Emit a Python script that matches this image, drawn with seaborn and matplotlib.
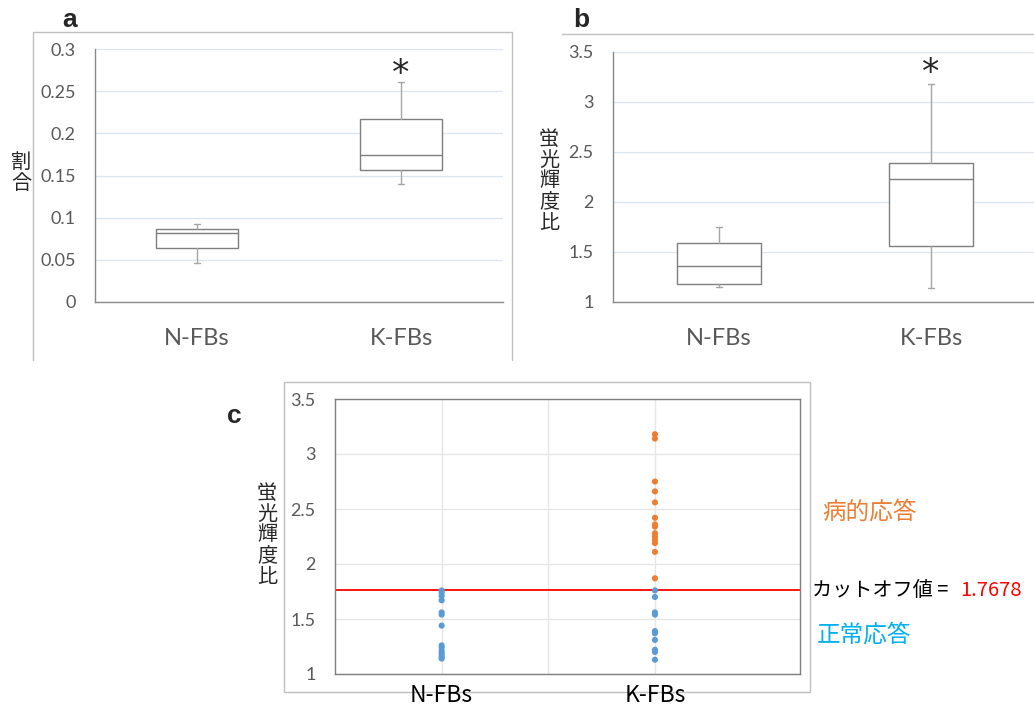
import matplotlib
matplotlib.use("Agg")
import matplotlib.pyplot as plt
import numpy as np
import pandas as pd
import seaborn as sns
from matplotlib.lines import Line2D
from matplotlib.patches import Rectangle

groups = ["N-FBs", "K-FBs"]

# panel a: box summaries (割合)
a_whislo = [0.046, 0.140]
a_q1 = [0.064, 0.157]
a_med = [0.082, 0.174]
a_q3 = [0.087, 0.217]
a_whishi = [0.092, 0.261]
a_ticks = [0, 0.05, 0.1, 0.15, 0.2, 0.25, 0.3]
a_ticklabels = ["0", "0.05", "0.1", "0.15", "0.2", "0.25", "0.3"]

# panel b: box summaries (蛍光輝度比)
b_whislo = [1.15, 1.14]
b_q1 = [1.18, 1.56]
b_med = [1.36, 2.23]
b_q3 = [1.59, 2.39]
b_whishi = [1.75, 3.18]
ratio_ticks = [1, 1.5, 2, 2.5, 3, 3.5]
ratio_ticklabels = ["1", "1.5", "2", "2.5", "3", "3.5"]

# panel c: individual values
n_fbs = [1.76, 1.74, 1.71, 1.67, 1.56, 1.54, 1.44, 1.26, 1.24, 1.21, 1.19, 1.17, 1.15, 1.14]
k_fbs = [3.18, 3.14, 2.75, 2.66, 2.56, 2.42, 2.36, 2.34, 2.28, 2.25, 2.22, 2.19, 2.11,
         1.87, 1.76, 1.70, 1.56, 1.54, 1.39, 1.37, 1.31, 1.22, 1.20, 1.13]
cutoff = 1.7678

GRAY = "#7F7F7F"
TICK = "#595959"
W, H = 1034, 708

sns.set_theme(style="white")
plt.rcParams['font.family'] = ['Lato', 'Noto Sans CJK JP', 'DejaVu Sans']
JP = ['Noto Sans CJK JP', 'DejaVu Sans']

fig = plt.figure(figsize=(W / 100, H / 100), dpi=100)


def px(l, t, r, b):
    return [l / W, 1 - b / H, (r - l) / W, (b - t) / H]


def fline(xs, ys, color="#BFBFBF"):
    fig.add_artist(Line2D([x / W for x in xs], [1 - y / H for y in ys],
                          color=color, lw=1, transform=fig.transFigure))


def box_panel(ax, lo, q1, med, q3, hi, ticks, labels):
    stats = [dict(label=g, whislo=lo[i], q1=q1[i], med=med[i], q3=q3[i], whishi=hi[i])
             for i, g in enumerate(groups)]
    ax.bxp(stats, positions=[0, 1], widths=0.4, capwidths=0.03, showfliers=False,
           patch_artist=True,
           boxprops=dict(facecolor="white", edgecolor=GRAY, lw=1),
           medianprops=dict(color=GRAY, lw=1),
           whiskerprops=dict(color="#A6A6A6", lw=1),
           capprops=dict(color="#A6A6A6", lw=1))
    ax.set_xlim(-0.5, 1.5)
    ax.set_ylim(ticks[0], ticks[-1])
    ax.set_yticks(ticks)
    ax.set_yticklabels(labels, color=TICK, fontsize=13)
    ax.set_xticks([0, 1])
    ax.set_xticklabels(groups, color=TICK, fontsize=17)
    ax.tick_params(axis="y", length=0, pad=14)
    ax.tick_params(axis="x", length=0, pad=19)
    ax.yaxis.grid(True, color="#DCE6F1", lw=1)
    ax.set_axisbelow(True)
    for s in ["top", "right"]:
        ax.spines[s].set_visible(False)
    for s in ["left", "bottom"]:
        ax.spines[s].set_color("#898989")
        ax.spines[s].set_linewidth(1)
    ax.set_facecolor("none")


# ---- panel a
ax_a = fig.add_axes(px(95, 49, 503, 302))
box_panel(ax_a, a_whislo, a_q1, a_med, a_q3, a_whishi, a_ticks, a_ticklabels)
ax_a.text(1, 0.27, "*", ha="center", va="center", fontsize=25, family="DejaVu Sans")
fline([33, 33], [32, 360])
fline([33, 512], [32, 32])
fline([512, 512], [32, 360])
fig.text(70 / W, 1 - 20 / H, "a", fontsize=19, fontweight="bold",
         family="Liberation Sans", ha="center", va="center")
fig.text(21 / W, 1 - 173 / H, "割\n合", fontsize=14.5, family=JP,
         ha="center", va="center", linespacing=1.0)

# ---- panel b
ax_b = fig.add_axes(px(613, 52, 1037, 302))
box_panel(ax_b, b_whislo, b_q1, b_med, b_q3, b_whishi, ratio_ticks, ratio_ticklabels)
ax_b.text(1, 3.29, "*", ha="center", va="center", fontsize=25, family="DejaVu Sans")
fline([562, 1034], [34, 34])
fig.text(581 / W, 1 - 20 / H, "b", fontsize=19, fontweight="bold",
         family="Liberation Sans", ha="center", va="center")
fig.text(549 / W, 1 - 181 / H, "蛍\n光\n輝\n度\n比", fontsize=14.5, family=JP,
         ha="center", va="center", linespacing=1.0)

# ---- panel c
ax_c = fig.add_axes(px(335, 399, 800, 674))
df = pd.DataFrame({"group": ["N-FBs"] * len(n_fbs) + ["K-FBs"] * len(k_fbs),
                   "value": n_fbs + k_fbs})
df["resp"] = np.where(df["value"] > cutoff, "病的応答", "正常応答")
sns.stripplot(data=df, x="group", y="value", hue="resp", order=groups,
              palette={"病的応答": "#ED7D31", "正常応答": "#5B9BD5"},
              jitter=False, size=4.4, linewidth=0, legend=False, ax=ax_c, zorder=3)
ax_c.axhline(cutoff, color="#FF0000", lw=1.3, zorder=2)
ax_c.set_xlim(-0.5, 1.68)
ax_c.set_ylim(1, 3.5)
ax_c.set_xticks([0, 0.5, 1])
ax_c.set_xticklabels(["N-FBs", "", "K-FBs"], fontsize=16.5, family=JP, color="black")
ax_c.set_yticks(ratio_ticks)
ax_c.set_yticklabels(ratio_ticklabels, color=TICK, fontsize=13)
ax_c.tick_params(axis="y", length=0, pad=14)
ax_c.tick_params(axis="x", length=0, pad=7)
ax_c.grid(True, color="#E6E6E6", lw=1)
ax_c.set_axisbelow(True)
ax_c.set_xlabel("")
ax_c.set_ylabel("")
for s in ax_c.spines.values():
    s.set_color("#7F7F7F")
    s.set_linewidth(1)
fig.add_artist(Rectangle((284 / W, 1 - 692 / H), 526 / W, 310 / H, fill=False,
                         edgecolor="#BFBFBF", lw=1, transform=fig.transFigure, zorder=0))
fig.text(234 / W, 1 - 416 / H, "c", fontsize=19, fontweight="bold",
         family="Liberation Sans", ha="center", va="center")
fig.text(267 / W, 1 - 535 / H, "蛍\n光\n輝\n度\n比", fontsize=14.5, family=JP,
         ha="center", va="center", linespacing=1.0)

fig.text(822 / W, 1 - 512 / H, "病的応答", fontsize=17, family=JP,
         color="#ED7D31", ha="left", va="center")
fig.text(812 / W, 1 - 590 / H, "カットオフ値 =", fontsize=14.5, family=JP,
         color="black", ha="left", va="center")
fig.text(960 / W, 1 - 590 / H, f"{cutoff}", fontsize=14.5, family=JP,
         color="#FF0000", ha="left", va="center")
fig.text(817 / W, 1 - 635 / H, "正常応答", fontsize=17, family=JP,
         color="#00B0F0", ha="left", va="center")

fig.savefig("out.png", dpi=100)
